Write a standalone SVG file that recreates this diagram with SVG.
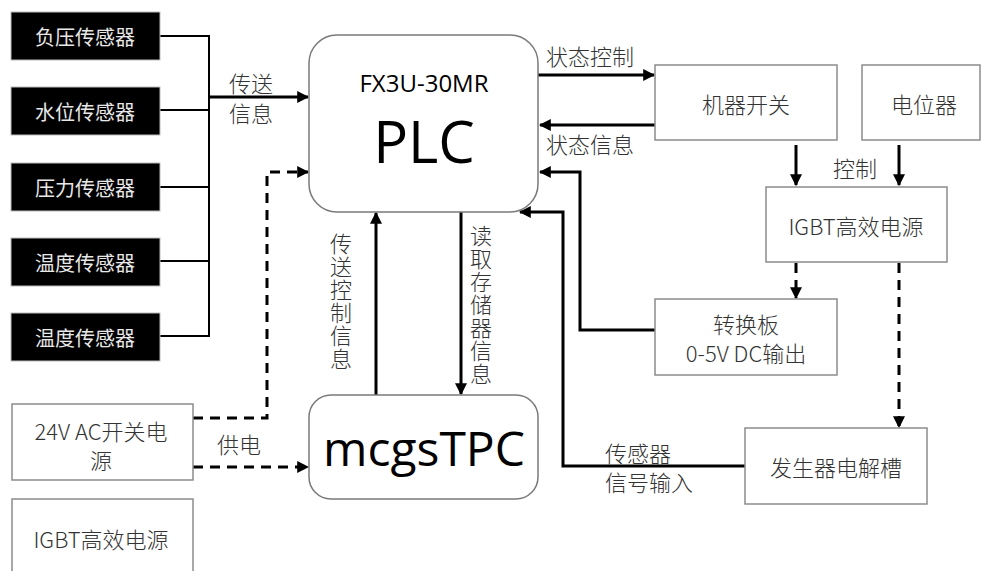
<svg xmlns="http://www.w3.org/2000/svg" width="983" height="571" viewBox="0 0 983 571">
<defs>
<marker id="ah" viewBox="0 0 10 10" refX="9" refY="5" markerWidth="4" markerHeight="4" orient="auto" markerUnits="strokeWidth"><path d="M0,0 L10,5 L0,10 z" fill="#000"/></marker>
<style>
.sens{fill:#000;stroke:#bbb;stroke-width:1}
.st{font-family:"Noto Sans CJK SC","Noto Sans",sans-serif;font-size:20px;fill:#e8e8e8;text-anchor:middle;dominant-baseline:central}
.box{fill:#fff;stroke:#8c8c8c;stroke-width:1.5}
.rbox{fill:#fff;stroke:#7a7a7a;stroke-width:1.5}
.t{font-family:"Noto Sans CJK SC","Noto Sans",sans-serif;font-size:22px;font-weight:300;fill:#333;text-anchor:middle;dominant-baseline:central}
.lbl{font-family:"Noto Sans CJK SC","Noto Sans",sans-serif;font-size:22px;font-weight:300;fill:#333;dominant-baseline:central}
.vt{font-family:"Noto Sans CJK SC","Noto Sans",sans-serif;font-size:22px;font-weight:300;fill:#333;writing-mode:vertical-rl;letter-spacing:1px}
.big{font-family:"Open Sans","Noto Sans",sans-serif;fill:#000;text-anchor:middle}
.ln{fill:none;stroke:#000;stroke-width:2}
.ar{fill:none;stroke:#000;stroke-width:3;marker-end:url(#ah)}
.da{fill:none;stroke:#000;stroke-width:3;stroke-dasharray:10 7;marker-end:url(#ah)}
</style>
</defs>
<rect width="983" height="571" fill="#fff"/>
<g id="connectors">
<path class="ln" d="M160,36 H209 M160,110 H209 M160,187 H209 M160,261 H209 M160,336 H209 M209,35 V337"/>
<path class="ar" d="M209,97 H308"/>
<path class="ar" d="M538,75 H654"/>
<path class="ar" d="M655,125 H540"/>
<path class="ar" d="M655,330 H580 V172 H540"/>
<path class="ar" d="M745,466 H563 V212 H520"/>
<path class="ar" d="M376,395 V213"/>
<path class="ar" d="M461,212 V394"/>
<path class="ar" d="M796,145 V185"/>
<path class="ar" d="M899,145 V185"/>
<path class="da" d="M796,263 V298"/>
<path class="da" d="M899,263 V427"/>
<path class="da" d="M193,418 H267 V172 H308"/>
<path class="da" d="M193,467 H308"/>
</g>
<g id="labels">
<text class="lbl" x="229" y="82">传送</text>
<text class="lbl" x="229" y="112">信息</text>
<text class="lbl" x="546" y="55">状态控制</text>
<text class="lbl" x="546" y="143">状态信息</text>
<text class="lbl" x="833" y="167">控制</text>
<text class="lbl" x="217" y="443">供电</text>
<text class="lbl" x="605" y="452">传感器</text>
<text class="lbl" x="605" y="481">信号输入</text>
<text class="vt" x="341" y="233">传送控制信息</text>
<text class="vt" x="481" y="225">读取存储器信息</text>
</g>
<g id="s1"><rect class="sens" x="11" y="12" width="149" height="48"/><text class="st" x="85" y="36">负压传感器</text></g>
<g id="s2"><rect class="sens" x="11" y="87" width="149" height="48"/><text class="st" x="85" y="111">水位传感器</text></g>
<g id="s3"><rect class="sens" x="11" y="163" width="149" height="48"/><text class="st" x="85" y="187">压力传感器</text></g>
<g id="s4"><rect class="sens" x="11" y="238" width="149" height="48"/><text class="st" x="85" y="262">温度传感器</text></g>
<g id="s5"><rect class="sens" x="11" y="313" width="149" height="48"/><text class="st" x="85" y="337">温度传感器</text></g>
<g id="plc"><rect class="rbox" x="309" y="35" width="229" height="177" rx="28"/><text class="big" x="424" y="92" font-size="24">FX3U-30MR</text><text class="big" x="424" y="163" font-size="58">PLC</text></g>
<g id="tpc"><rect class="rbox" x="309" y="395" width="229" height="104" rx="22"/><text class="big" x="424" y="466" font-size="48">mcgsTPC</text></g>
<g id="psu24"><rect class="box" x="12" y="404" width="181" height="76"/><text class="t" x="101" y="430">24V AC开关电</text><text class="t" x="101" y="459">源</text></g>
<g id="igbt2"><rect class="box" x="12" y="499" width="181" height="80"/><text class="t" x="101" y="538">IGBT高效电源</text></g>
<g id="switch"><rect class="box" x="655" y="65" width="182" height="75"/><text class="t" x="746" y="103">机器开关</text></g>
<g id="pot"><rect class="box" x="862" y="65" width="118" height="75"/><text class="t" x="924" y="103">电位器</text></g>
<g id="igbt"><rect class="box" x="766" y="187" width="181" height="75"/><text class="t" x="856" y="225">IGBT高效电源</text></g>
<g id="conv"><rect class="box" x="655" y="299" width="182" height="76"/><text class="t" x="746" y="323">转换板</text><text class="t" x="746" y="352">0-5V DC输出</text></g>
<g id="gen"><rect class="box" x="745" y="428" width="182" height="76"/><text class="t" x="836" y="466">发生器电解槽</text></g>
</svg>
